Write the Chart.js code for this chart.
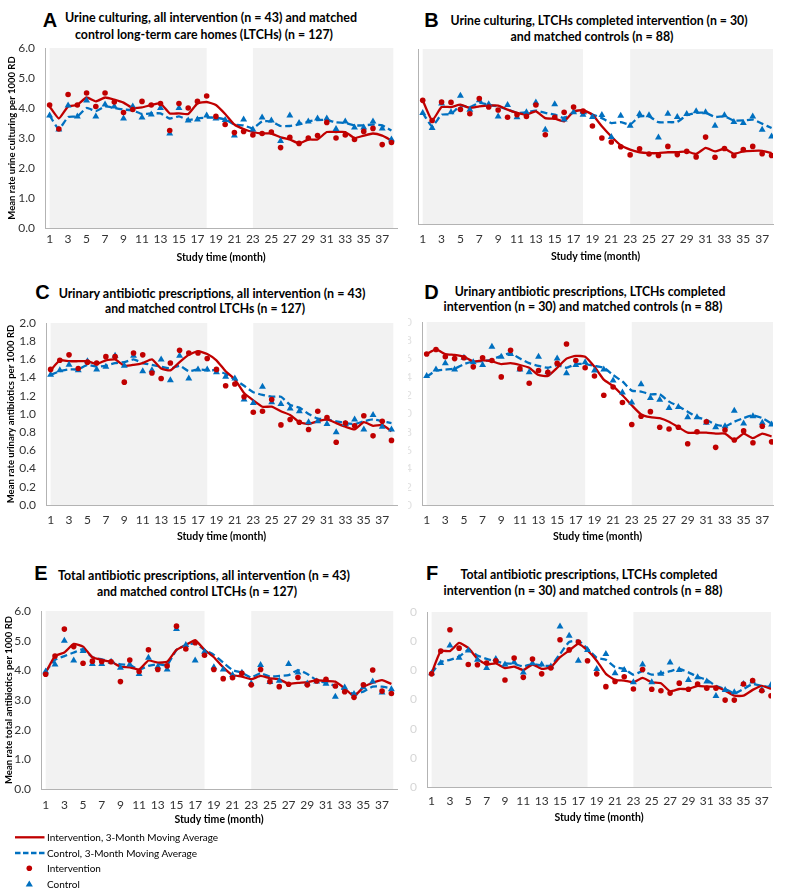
<!DOCTYPE html>
<html><head><meta charset="utf-8">
<script src="https://cdn.jsdelivr.net/npm/chart.js@4.4.0/dist/chart.umd.min.js"></script>
<style>
html,body{margin:0;padding:0;background:#fff;}
body{width:787px;height:895px;position:relative;overflow:hidden;font-family:Lato,"Liberation Sans",sans-serif;}
canvas{position:absolute;}
.t{position:absolute;white-space:nowrap;font-weight:bold;font-size:12.5px;line-height:15px;color:#000;font-family:Lato,"Liberation Sans",sans-serif;}
.L{position:absolute;font-family:"Liberation Sans",Arial,sans-serif;font-weight:bold;font-size:20px;line-height:20px;color:#000;transform:translate(-50%,-50%);}
.lg{position:absolute;font-size:10px;line-height:12px;color:#000;white-space:nowrap;font-family:Lato,"Liberation Sans",sans-serif;transform:translateY(-50%);}
svg{position:absolute;}
</style></head><body>
<script>
// ---------- data ----------
const months = [1,2,3,4,5,6,7,8,9,10,11,12,13,14,15,16,17,18,19,20,21,22,23,24,25,26,27,28,29,30,31,32,33,34,35,36,37,38];
const xTickValues = [1,3,5,7,9,11,13,15,17,19,21,23,25,27,29,31,33,35,37];
const shadeRanges = [[1,18],[23,38.2]];

const panelLetters = ['A','B','C','D','E','F'];
const panelTitles = [
  ['Urine culturing, all intervention (n = 43) and matched','control long-term care homes (LTCHs) (n = 127)'],
  ['Urine culturing, LTCHs completed intervention (n = 30)','and matched controls (n = 88)'],
  ['Urinary antibiotic prescriptions, all intervention (n = 43)','and matched control LTCHs (n = 127)'],
  ['Urinary antibiotic prescriptions, LTCHs completed','intervention (n = 30) and matched controls (n = 88)'],
  ['Total antibiotic prescriptions, all intervention (n = 43)','and matched control LTCHs (n = 127)'],
  ['Total antibiotic prescriptions, LTCHs completed','intervention (n = 30) and matched controls (n = 88)']
];
const yAxisTitles = ['Mean rate urine culturing per 1000 RD', '', 'Mean rate urinary antibiotics per 1000 RD', '', 'Mean rate total antibiotics per 1000 RD', ''];
const xAxisTitle = 'Study time (month)';
const legendLabels = ['Intervention, 3-Month Moving Average','Control, 3-Month Moving Average','Intervention','Control'];

// A: urine culturing, all
const aInt   = [4.1,3.3,4.45,4.1,4.5,4.05,4.5,4.2,3.85,3.95, 4.22,4.1,4.15,3.25,4.15,4.0,4.22,4.4,3.72,3.45, 3.18,3.22,3.1,3.15,3.2,2.68,3.02,2.82,3.0,3.08, 3.52,3.0,3.1,2.95,3.22,3.32,2.78,2.85];
const aCtl   = [3.75,3.28,4.08,3.72,4.25,3.72,4.12,4.05,3.65,4.05, 3.68,3.78,4.0,3.15,4.0,3.58,3.62,3.75,3.65,3.6, 3.08,3.62,3.28,3.68,3.58,2.9,3.75,3.5,3.55,3.65, 3.65,3.3,3.55,3.35,3.35,3.55,3.32,2.95];
const aIntMA = [4.05,3.65,4.05,4.1,4.35,4.22,4.35,4.28,4.18,4.0, 4.02,4.1,4.15,3.82,3.82,3.8,4.15,4.2,4.1,3.8, 3.45,3.3,3.2,3.15,3.15,3.02,2.95,2.82,2.95,2.95, 3.2,3.2,3.2,3.0,3.08,3.15,3.08,2.92];
const aCtlMA = [3.75,3.3,3.7,3.72,4.0,3.9,4.05,4.0,3.95,3.92, 3.8,3.82,3.82,3.65,3.72,3.6,3.65,3.68,3.68,3.62, 3.45,3.42,3.32,3.55,3.55,3.4,3.4,3.45,3.55,3.6, 3.6,3.52,3.5,3.42,3.42,3.45,3.42,3.25];
// B: urine culturing, completed
const bInt   = [4.24,3.55,4.18,4.17,3.93,3.78,4.3,4.01,3.91,3.66, 3.75,3.69,4.08,3.06,3.66,3.83,4.01,3.87,3.36,2.95, 2.81,2.65,2.37,2.58,2.4,2.35,2.66,2.38,2.49,2.3, 2.98,2.29,2.59,2.34,2.55,2.66,2.41,2.35];
const bCtl   = [3.81,3.29,4.13,3.83,4.4,3.92,4.24,4.11,3.69,4.08, 3.66,3.83,4.17,3.23,4.11,3.58,3.83,3.75,3.67,3.74, 2.98,3.71,3.37,3.77,3.73,2.97,3.78,3.67,3.77,3.87, 3.83,3.37,3.73,3.5,3.46,3.69,3.23,3.0];
const bIntMA = [4.24,3.55,4.01,4.01,4.09,3.98,4.03,4.06,4.06,3.92, 3.81,3.75,3.86,3.63,3.61,3.52,3.86,3.9,3.75,3.35, 3.0,2.7,2.55,2.46,2.43,2.43,2.46,2.46,2.49,2.4, 2.61,2.49,2.58,2.41,2.49,2.51,2.51,2.43];
const bCtlMA = [3.81,3.35,3.75,3.77,4.06,4.01,4.15,4.09,4.03,3.92, 3.81,3.83,3.89,3.81,3.75,3.63,3.83,3.81,3.75,3.63, 3.46,3.49,3.41,3.69,3.69,3.49,3.49,3.5,3.73,3.81, 3.81,3.67,3.69,3.55,3.55,3.58,3.44,3.29];
// C: urinary antibiotics, all
const cInt   = [1.49,1.59,1.65,1.5,1.57,1.56,1.63,1.63,1.35,1.67, 1.65,1.45,1.39,1.56,1.7,1.67,1.67,1.61,1.49,1.31, 1.33,1.19,1.02,1.03,1.16,0.88,0.94,0.91,0.83,1.03, 0.96,0.69,0.9,0.87,0.98,0.76,0.92,0.71];
const cCtl   = [1.43,1.48,1.54,1.48,1.58,1.49,1.52,1.64,1.53,1.64, 1.47,1.48,1.6,1.37,1.64,1.39,1.49,1.49,1.46,1.41, 1.39,1.16,1.12,1.3,1.13,1.11,1.06,1.03,0.91,0.92, 0.89,0.8,0.89,0.94,0.83,0.99,0.86,0.83];
const cIntMA = [1.48,1.59,1.58,1.58,1.58,1.55,1.59,1.6,1.53,1.54, 1.56,1.6,1.5,1.48,1.57,1.65,1.69,1.66,1.59,1.47, 1.38,1.23,1.15,1.08,1.08,1.03,0.99,0.91,0.89,0.92, 0.94,0.9,0.86,0.83,0.91,0.87,0.88,0.81];
const cCtlMA = [1.43,1.47,1.49,1.49,1.54,1.52,1.53,1.56,1.57,1.6, 1.56,1.54,1.52,1.5,1.53,1.47,1.49,1.48,1.48,1.44, 1.38,1.31,1.24,1.21,1.19,1.19,1.1,1.07,1.0,0.95, 0.94,0.92,0.9,0.89,0.92,0.94,0.92,0.9];
// D: urinary antibiotics, completed
const dInt   = [1.65,1.7,1.62,1.6,1.61,1.51,1.61,1.58,1.4,1.69, 1.49,1.33,1.47,1.45,1.55,1.76,1.58,1.5,1.41,1.2, 1.29,1.12,0.88,0.97,1.02,0.85,0.83,0.85,0.67,0.8, 0.91,0.63,0.82,0.71,0.81,0.68,0.86,0.69];
const dCtl   = [1.41,1.48,1.55,1.48,1.61,1.56,1.53,1.73,1.62,1.65, 1.48,1.45,1.62,1.45,1.6,1.44,1.53,1.56,1.47,1.48, 1.36,1.23,1.12,1.32,1.17,1.15,1.06,1.07,0.96,0.96, 0.9,0.85,0.86,1.03,0.89,0.97,0.9,0.88];
const dIntMA = [1.65,1.7,1.65,1.64,1.62,1.57,1.58,1.57,1.54,1.55, 1.53,1.5,1.42,1.41,1.5,1.6,1.63,1.62,1.51,1.37, 1.3,1.2,1.09,0.99,0.96,0.95,0.91,0.85,0.79,0.79, 0.79,0.78,0.78,0.71,0.78,0.73,0.78,0.75];
const dCtlMA = [1.4,1.47,1.48,1.49,1.54,1.57,1.57,1.59,1.63,1.66, 1.6,1.55,1.52,1.5,1.53,1.5,1.54,1.54,1.52,1.5, 1.42,1.35,1.25,1.24,1.21,1.21,1.13,1.08,1.02,0.96, 0.93,0.88,0.86,0.91,0.95,0.98,0.95,0.89];
// E: total antibiotics, all
const eInt   = [3.87,4.48,5.39,4.8,4.24,4.31,4.3,4.29,3.62,4.35, 3.96,4.69,4.03,4.15,5.49,4.72,4.93,4.51,4.03,3.72, 3.75,3.9,3.51,4.03,3.62,3.45,3.53,3.76,3.51,3.64, 3.7,3.47,3.28,3.09,3.51,4.01,3.3,3.22];
const eCtl   = [3.96,4.2,5.0,4.33,4.65,4.21,4.21,4.29,4.09,4.2, 3.88,4.42,4.12,4.03,5.39,4.85,4.33,4.63,4.1,4.03, 3.84,3.92,3.56,4.18,3.61,3.65,4.21,3.93,3.56,3.62, 3.55,3.11,3.42,3.2,3.43,3.62,3.25,3.36];
const eIntMA = [3.92,4.48,4.6,4.89,4.8,4.44,4.35,4.29,4.12,4.1, 4.03,4.33,4.26,4.29,4.69,4.85,5.02,4.69,4.44,4.1, 3.84,3.79,3.7,3.81,3.73,3.7,3.54,3.58,3.6,3.67, 3.64,3.62,3.39,3.13,3.43,3.58,3.67,3.54];
const eCtlMA = [3.96,4.35,4.48,4.6,4.71,4.44,4.37,4.29,4.2,4.18, 4.03,4.15,4.21,4.18,4.69,4.85,4.91,4.69,4.52,4.26, 4.01,3.92,3.76,3.9,3.79,3.81,3.84,4.01,3.88,3.67, 3.58,3.47,3.34,3.2,3.28,3.45,3.45,3.39];
// F: total antibiotics, completed
const fInt   = [3.88,4.66,5.39,4.76,4.2,4.19,4.25,4.33,3.67,4.42, 3.76,4.39,3.88,4.08,5.05,4.7,4.97,4.33,3.88,3.44, 3.62,3.78,3.36,4.03,3.35,3.3,3.22,3.56,3.35,3.53, 3.39,3.39,2.98,2.98,3.53,3.65,3.3,3.13];
const fCtl   = [3.9,4.25,4.85,4.43,4.68,4.36,4.08,4.39,4.2,4.28, 3.93,4.24,4.2,4.13,5.5,5.19,4.33,4.7,4.05,4.56, 3.9,4.01,3.59,4.2,3.59,3.88,4.27,4.01,3.67,3.76, 3.62,3.12,3.33,3.25,3.53,3.62,3.33,3.5];
const fIntMA = [3.9,4.66,4.66,4.94,4.77,4.39,4.2,4.24,4.08,4.13, 4.01,4.2,4.05,4.11,4.45,4.68,4.91,4.68,4.33,3.88, 3.67,3.65,3.59,3.74,3.59,3.56,3.28,3.36,3.36,3.47, 3.44,3.44,3.3,3.13,3.13,3.33,3.47,3.36];
const fCtlMA = [3.9,4.28,4.36,4.47,4.7,4.51,4.39,4.31,4.24,4.22, 4.13,4.22,4.16,4.16,4.56,4.97,5.02,4.74,4.43,4.36, 4.11,4.05,3.85,3.97,3.85,3.9,3.97,4.05,3.93,3.78, 3.67,3.47,3.36,3.21,3.36,3.53,3.47,3.42];

// ---------- styling / layout ----------
const RED = '#c00000', BLUE = '#0070c0', SHADE = '#f2f2f2', AXIS = '#b3b3b3', TICK = '#333333';
const FONT = 'Lato, "Liberation Sans", sans-serif';

const panels = [
  {series:[aInt,aCtl,aIntMA,aCtlMA], yMax:6, yStep:1, box:{l:0,t:40,w:401,h:226}, yW:45, xH:38, xMax:38.6, xPad:4, tickColor:TICK, yTitlePad:6.5},
  {series:[bInt,bCtl,bIntMA,bCtlMA], yMax:6, yStep:1, box:{l:404,t:41,w:373,h:224}, yW:14, xH:41, xMax:38.15, xPad:8, tickColor:null, yTitlePad:0},
  {series:[cInt,cCtl,cIntMA,cCtlMA], yMax:2, yStep:0.2, box:{l:0,t:315,w:401,h:230}, yW:46, xH:40, xMax:38.6, xPad:7.5, tickColor:TICK, yTitlePad:5.5},
  {series:[dInt,dCtl,dIntMA,dCtlMA], yMax:2, yStep:0.2, box:{l:408,t:314,w:369,h:231}, yW:14, xH:40, xMax:38.15, xPad:8, tickColor:'#e2e2e2', yTitlePad:0},
  {series:[eInt,eCtl,eIntMA,eCtlMA], yMax:6, yStep:1, box:{l:0,t:603,w:401,h:225}, yW:41, xH:39, xMax:38.6, xPad:8.5, tickColor:TICK, yTitlePad:3},
  {series:[fInt,fCtl,fIntMA,fCtlMA], yMax:6, yStep:1, box:{l:410,t:604,w:365,h:222}, yW:17, xH:39, xMax:38.0, xPad:7, tickColor:'#d6d6d6', yTitlePad:0}
];
const letterPos = [[50,19.5],[431.5,20],[42.5,291.5],[431.5,291.5],[41,572.5],[432,572.5]];
const titlePos = [
  [[211,17,292],[204,34,258]],
  [[598.5,20,297],[591.5,36,163]],
  [[211.5,293,307],[205,307.5,200]],
  [[589.5,291,271],[582.5,306,279]],
  [[204,575,292],[197,591,200]],
  [[588.5,574,257],[582.5,589.5,279]]
];

function pts(vals){ return months.map((m,i)=>({x:m, y:vals[i]})); }

const shadePlugin = {
  id:'shade',
  beforeDraw(chart){
    const {ctx, chartArea:a, scales:{x}} = chart;
    ctx.save();
    ctx.fillStyle = SHADE;
    shadeRanges.forEach(([s,e])=>{
      const x0 = Math.max(a.left, x.getPixelForValue(s));
      const x1 = Math.min(a.right, x.getPixelForValue(Math.min(e, x.max)));
      ctx.fillRect(x0, a.top, x1-x0, a.bottom-a.top);
    });
    ctx.restore();
  }
};

const mctx = document.createElement('canvas').getContext('2d');
function addText(txt, cx, cy, w){
  const d = document.createElement('div');
  d.className = 't';
  d.textContent = txt;
  mctx.font = 'bold 12.5px ' + FONT;
  const w0 = mctx.measureText(txt).width;
  d.style.left = cx + 'px';
  d.style.top = cy + 'px';
  d.style.transform = 'translate(-50%,-50%) scaleX(' + (w/w0).toFixed(4) + ')';
  document.body.appendChild(d);
}

panels.forEach((p, i)=>{
  const L = document.createElement('div');
  L.className = 'L'; L.textContent = panelLetters[i];
  L.style.left = letterPos[i][0]+'px'; L.style.top = letterPos[i][1]+'px';
  document.body.appendChild(L);
  panelTitles[i].forEach((t, j)=> addText(t, titlePos[i][j][0], titlePos[i][j][1], titlePos[i][j][2]));

  const cv = document.createElement('canvas');
  cv.width = p.box.w; cv.height = p.box.h;
  cv.style.left = p.box.l + 'px'; cv.style.top = p.box.t + 'px';
  cv.style.width = p.box.w + 'px'; cv.style.height = p.box.h + 'px';
  document.body.appendChild(cv);

  const [sInt, sCtl, sIntMA, sCtlMA] = p.series;
  new Chart(cv, {
    type:'line',
    data:{datasets:[
      {label:legendLabels[2], data:pts(sInt), showLine:false, pointStyle:'circle', pointRadius:2.8, pointBackgroundColor:RED, pointBorderColor:RED, pointBorderWidth:0, borderColor:RED, backgroundColor:RED},
      {label:legendLabels[3], data:pts(sCtl), showLine:false, pointStyle:'triangle', pointRadius:4, pointBackgroundColor:BLUE, pointBorderColor:BLUE, pointBorderWidth:0, borderColor:BLUE, backgroundColor:BLUE},
      {label:legendLabels[0], data:pts(sIntMA), borderColor:RED, borderWidth:2.3, pointRadius:0, tension:0.15, fill:false},
      {label:legendLabels[1], data:pts(sCtlMA), borderColor:BLUE, borderWidth:2.3, borderDash:[7,3.5], pointRadius:0, tension:0.15, fill:false}
    ]},
    options:{
      responsive:false, animation:false, devicePixelRatio:1,
      layout:{padding:{top:8,left:0,right:0,bottom:0}},
      plugins:{legend:{display:false}, tooltip:{enabled:false}},
      scales:{
        x:{
          type:'linear', min:0.5, max:p.xMax,
          afterBuildTicks:(s)=>{ s.ticks = xTickValues.map(v=>({value:v})); },
          ticks:{autoSkip:false, maxRotation:0, minRotation:0, padding:p.xPad, color:TICK, font:{family:FONT, size:12}, callback:(v)=>String(v)},
          grid:{display:false, drawTicks:false},
          border:{display:true, color:AXIS, width:1},
          title:{display:true, text:xAxisTitle, color:'#000', font:{family:FONT, size:10.5, weight:'bold'}, padding:{top:0,bottom:2}},
          afterFit:(s)=>{ s.height = p.xH; s.paddingLeft = 0; s.paddingRight = 0; }
        },
        y:{
          min:0, max:p.yMax,
          ticks:{display: !!p.tickColor, stepSize:p.yStep, padding:10, color:p.tickColor || TICK, font:{family:FONT, size:12}, callback:(v)=>Number(v).toFixed(1)},
          grid:{display:false, drawTicks:false},
          border:{display:true, color:AXIS, width:1},
          title:{display: !!yAxisTitles[i], text:yAxisTitles[i], color:'#000', font:{family:FONT, size:9.5, weight:'bold'}, padding:{top:p.yTitlePad, bottom:0}},
          afterFit:(s)=>{ s.width = p.yW; s.paddingTop = 0; s.paddingBottom = 0; }
        }
      }
    },
    plugins:[shadePlugin]
  });
});

// ---------- legend ----------
const legendY = [837.3, 853, 868.3, 884.3];
const sv = document.createElementNS('http://www.w3.org/2000/svg','svg');
sv.setAttribute('width','50'); sv.setAttribute('height','70');
sv.style.left = '0px'; sv.style.top = '826px';
const oy = 826;
sv.innerHTML =
  '<line x1="15" x2="44.5" y1="'+(legendY[0]-oy)+'" y2="'+(legendY[0]-oy)+'" stroke="'+RED+'" stroke-width="2.3"/>' +
  '<line x1="15" x2="44.5" y1="'+(legendY[1]-oy)+'" y2="'+(legendY[1]-oy)+'" stroke="'+BLUE+'" stroke-width="2.3" stroke-dasharray="5.5,2.5"/>' +
  '<circle cx="29.3" cy="'+(legendY[2]-oy)+'" r="2.8" fill="'+RED+'"/>' +
  '<polygon points="29.3,'+(legendY[3]-oy-3.8)+' 32.9,'+(legendY[3]-oy+2.2)+' 25.7,'+(legendY[3]-oy+2.2)+'" fill="'+BLUE+'"/>';
document.body.appendChild(sv);
legendLabels.forEach((t, k)=>{
  const d = document.createElement('div');
  d.className = 'lg'; d.textContent = t;
  d.style.left = '47px'; d.style.top = legendY[k] + 'px';
  document.body.appendChild(d);
});
</script>
</body></html>
